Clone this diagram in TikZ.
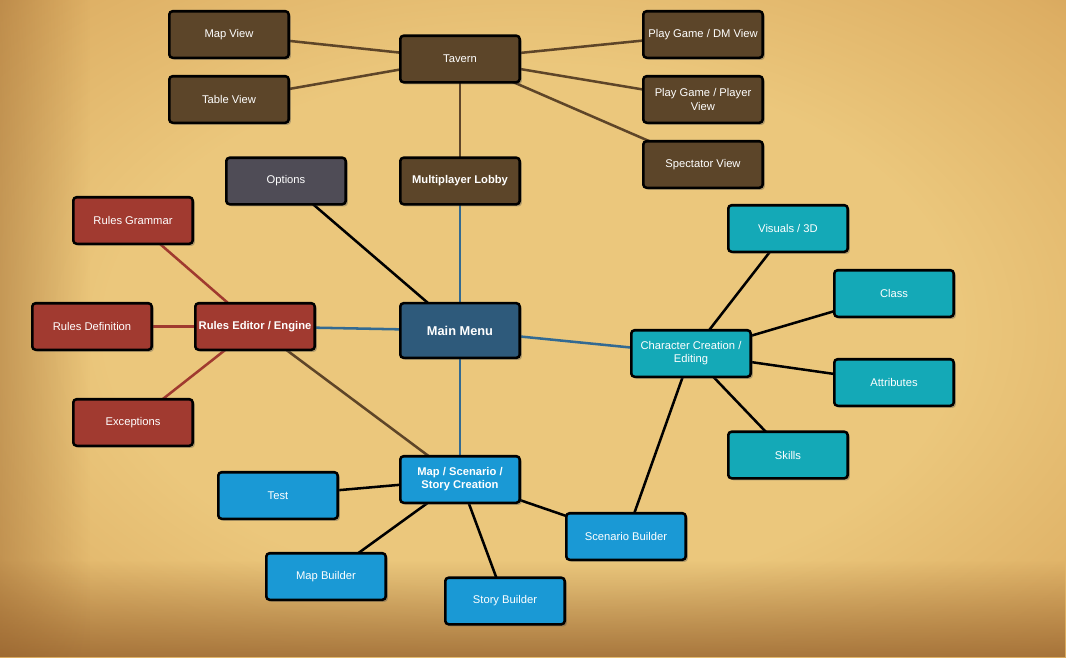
\documentclass[tikz,border=0pt]{standalone}
\usepackage{fontspec}
\setmainfont{Liberation Sans}
\usetikzlibrary{shadows,fadings}
\definecolor{pcenter}{HTML}{EBC77C}
\definecolor{pmid}{HTML}{DDAE63}
\definecolor{pedge}{HTML}{BF8A48}
\definecolor{pcorner}{HTML}{94602C}
\definecolor{cbrown}{HTML}{5C4529}
\definecolor{cgray}{HTML}{4F4C56}
\definecolor{cred}{HTML}{A13A30}
\definecolor{cmain}{HTML}{2E5A7B}
\definecolor{cteal}{HTML}{14A9B7}
\definecolor{cblue}{HTML}{1A99D5}
\definecolor{lbrown}{HTML}{5E4528}
\definecolor{lblue}{HTML}{336A92}
\definecolor{lred}{HTML}{A03A2F}
\pgfdeclareradialshading{parch}{\pgfpoint{0bp}{0bp}}{color(0bp)=(pcenter); color(20bp)=(pcenter); color(34bp)=(pmid); color(46bp)=(pedge); color(62bp)=(pcorner); color(70bp)=(pcorner)}
\tikzfading[name=fadeleft, left color=transparent!0, right color=transparent!100]
\tikzfading[name=fadebottom, bottom color=transparent!0, top color=transparent!100]
\pgfdeclarelayer{bg}
\pgfdeclarelayer{edges}
\pgfsetlayers{bg,edges,main}
\tikzset{
  box/.style={draw=black, line width=1.9pt, rounded corners=2.5pt, text=white,
    minimum width=89.6pt, minimum height=34.9pt, inner sep=1pt, align=center,
    font=\fontsize{8.4}{9.8}\selectfont,
    drop shadow={shadow xshift=1.6pt, shadow yshift=-1.6pt, opacity=0.35, fill=black!70}},
  bbox/.style={box, fill=cbrown},
  gbox/.style={box, fill=cgray},
  rbox/.style={box, fill=cred},
  mbox/.style={box, fill=cmain, minimum height=41pt, font=\fontsize{9.6}{11}\selectfont\bfseries},
  tbox/.style={box, fill=cteal},
  ubox/.style={box, fill=cblue},
  bold/.style={font=\fontsize{8.4}{9.8}\selectfont\bfseries},
  ebrown/.style={draw=lbrown, line width=1.9pt},
  eblue/.style={draw=lblue, line width=1.9pt},
  ered/.style={draw=lred, line width=1.9pt},
  eblack/.style={draw=black, line width=1.9pt},
}
\begin{document}
\begin{tikzpicture}[x=0.75pt,y=-0.75pt]
\useasboundingbox (0,0) rectangle (1066,657);
\begin{pgfonlayer}{bg}
\shade[shading=parch] (0,0) rectangle (1066,657);
\fill[pcorner, path fading=fadebottom, opacity=0.75] (0,560) rectangle (1066,657);
\fill[pcorner, path fading=fadeleft, opacity=0.4] (0,0) rectangle (90,657);
\end{pgfonlayer}
% nodes
\node[bbox] (mapview) at (229,34.5) {Map View};
\node[bbox] (tableview) at (229,99.5) {Table View};
\node[bbox] (tavern) at (460,59) {Tavern};
\node[bbox] (dm) at (703,34.5) {Play Game / DM View};
\node[bbox] (player) at (703,99.5) {Play Game / Player\\View};
\node[bbox] (spect) at (703,164.5) {Spectator View};
\node[bbox, bold] (lobby) at (460,181) {Multiplayer Lobby};
\node[gbox] (options) at (286,181) {Options};
\node[rbox] (grammar) at (133,220.5) {Rules Grammar};
\node[rbox] (def) at (92,326.5) {Rules Definition};
\node[rbox, bold] (engine) at (255,326.5) {Rules Editor / Engine};
\node[rbox] (exc) at (133,422.5) {Exceptions};
\node[mbox] (main) at (460,330.5) {Main Menu};
\node[tbox] (char) at (691,353.5) {Character Creation /\\Editing};
\node[tbox] (visuals) at (788,228.5) {Visuals / 3D};
\node[tbox] (class) at (894,293.5) {Class};
\node[tbox] (attr) at (894,382.5) {Attributes};
\node[tbox] (skills) at (788,455) {Skills};
\node[ubox, bold] (story) at (460,479.5) {Map / Scenario /\\Story Creation};
\node[ubox] (test) at (278,495.5) {Test};
\node[ubox] (mapb) at (326,576.5) {Map Builder};
\node[ubox] (storyb) at (505,601) {Story Builder};
\node[ubox] (scenb) at (626,536.5) {Scenario Builder};
% edges
\begin{pgfonlayer}{edges}
\draw[ebrown] (mapview.center) -- (tavern.center);
\draw[ebrown] (tableview.center) -- (tavern.center);
\draw[ebrown] (tavern.center) -- (dm.center);
\draw[ebrown] (tavern.center) -- (player.center);
\draw[ebrown] (tavern.center) -- (spect.center);
\draw[ebrown] (tavern.center) -- (lobby.center);
\draw[eblue] (lobby.center) -- (main.center);
\draw[eblack] (options.center) -- (main.center);
\draw[eblue] (engine.center) -- (main.center);
\draw[ered] (grammar.center) -- (engine.center);
\draw[ered] (def.center) -- (engine.center);
\draw[ered] (exc.center) -- (engine.center);
\draw[ebrown] (engine.center) -- (story.center);
\draw[eblue] (main.center) -- (story.center);
\draw[eblue] (main.center) -- (char.center);
\draw[eblack] (char.center) -- (visuals.center);
\draw[eblack] (char.center) -- (class.center);
\draw[eblack] (char.center) -- (attr.center);
\draw[eblack] (char.center) -- (skills.center);
\draw[eblack] (char.center) -- (scenb.center);
\draw[eblack] (story.center) -- (test.center);
\draw[eblack] (story.center) -- (mapb.center);
\draw[eblack] (story.center) -- (storyb.center);
\draw[eblack] (story.center) -- (scenb.center);
\end{pgfonlayer}
\end{tikzpicture}
\end{document}
